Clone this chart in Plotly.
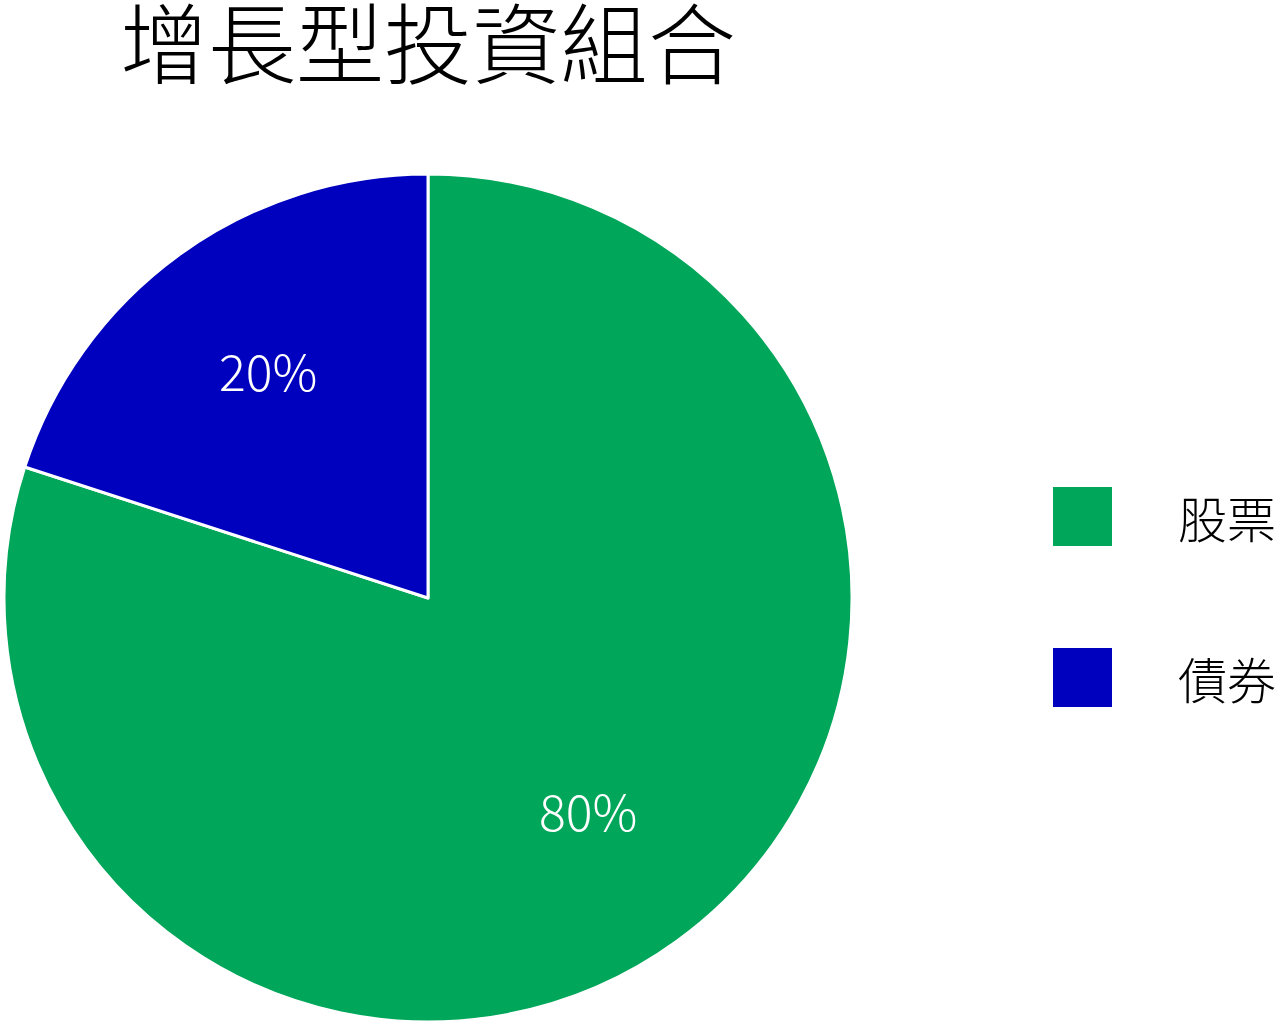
import math
import plotly.graph_objects as go

labels = ["股票", "債券"]
values = [80, 20]
colors = ["#00A659", "#0000BF"]
title_text = "增長型投資組合"

W, H = 1280, 1027
FONT = "Noto Sans CJK TC, Noto Sans, sans-serif"

# pie geometry (pixels)
CX, CY, R = 428, 598, 424

fig = go.Figure()
fig.add_trace(go.Pie(
    labels=labels, values=values, sort=False, direction="clockwise", rotation=0,
    marker=dict(colors=colors, line=dict(color="white", width=3)),
    textinfo="none",
    domain=dict(x=[(CX - R) / W, (CX + R) / W], y=[1 - (CY + R) / H, 1 - (CY - R) / H]),
    showlegend=False, hoverinfo="label+percent",
))

# percentage labels placed at slice mid-angle
total = sum(values)
cum = 0
for v in values:
    mid = (cum + v / 2) / total * 2 * math.pi
    cum += v
    px = CX + 0.64 * R * math.sin(mid)
    py = CY - 0.64 * R * math.cos(mid)
    fig.add_annotation(text=f"{round(v / total * 100)}%", xref="paper", yref="paper",
                       x=px / W, y=1 - py / H, xanchor="center", yanchor="middle",
                       yshift=9, showarrow=False,
                       font=dict(family=FONT, size=50, color="white", weight=300))

# custom legend (large square swatches)
sw_x0, sw_x1 = 1053, 1112
sw_tops = [487, 648]
for lab, col, top in zip(labels, colors, sw_tops):
    fig.add_shape(type="rect", xref="paper", yref="paper",
                  x0=sw_x0 / W, x1=sw_x1 / W,
                  y0=1 - (top + 59) / H, y1=1 - top / H,
                  fillcolor=col, line=dict(width=0))
    fig.add_annotation(text=lab, xref="paper", yref="paper",
                       x=1176 / W, y=1 - (top + 29) / H,
                       xanchor="left", yanchor="middle", showarrow=False,
                       font=dict(family=FONT, size=49, color="black", weight=300))

fig.update_layout(
    width=W, height=H,
    margin=dict(l=0, r=0, t=0, b=0),
    paper_bgcolor="white", plot_bgcolor="white",
    title=dict(text=title_text, x=120 / W, xanchor="left", y=1 - 46 / H, yanchor="middle",
               font=dict(family=FONT, size=88, color="black", weight=300)),
)

fig.write_html("out.html", config={"displayModeBar": False},
               post_script="document.body.style.margin='0';document.body.style.overflow='hidden';")
